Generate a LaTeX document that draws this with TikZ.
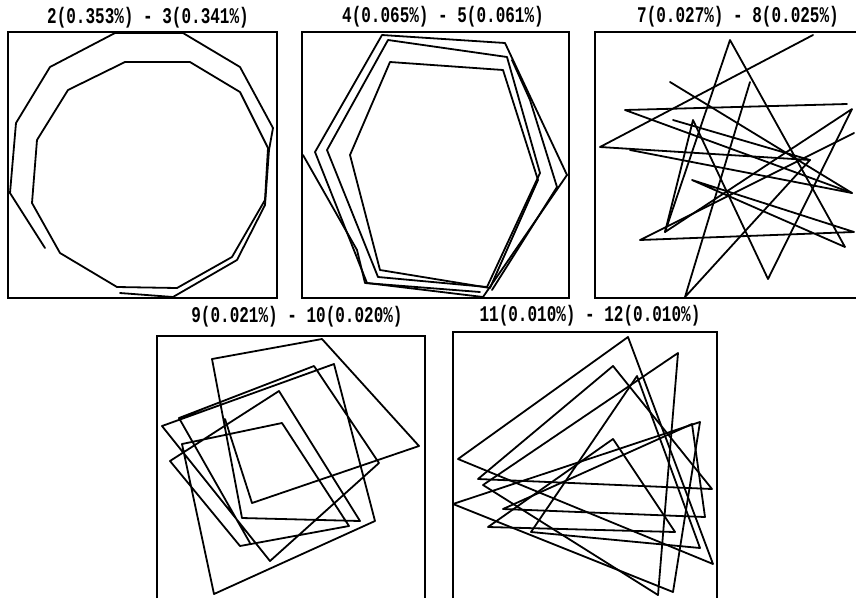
\documentclass[tikz,border=0pt]{standalone}
\usepackage{fontspec}
\setmonofont{Liberation Mono}
\usepackage{tikz}
\tikzset{
  panelframe/.style={line width=1.4pt},
  trace/.style={line width=1.8pt, line join=round, line cap=round},
  paneltitle/.style={inner sep=0pt,
    font=\ttfamily\bfseries\fontsize{16}{17}\selectfont},
}
\newcommand{\tallText}[1]{\scalebox{1}[1.4]{#1}}

\begin{document}
\begin{tikzpicture}[x=1pt, y=-1pt]
  \useasboundingbox (0,0) rectangle (856,598);

  % Titles
  \node[paneltitle] (t1) at (148,18) {\tallText{2(0.353\%) - 3(0.341\%)}};
  \node[paneltitle] (t2) at (443,17) {\tallText{4(0.065\%) - 5(0.061\%)}};
  \node[paneltitle] (t3) at (738,17) {\tallText{7(0.027\%) - 8(0.025\%)}};
  \node[paneltitle] (t4) at (297,317) {\tallText{9(0.021\%) - 10(0.020\%)}};
  \node[paneltitle] (t5) at (590,316) {\tallText{11(0.010\%) - 12(0.010\%)}};

  % Panel 1
  \draw[panelframe] (8,32) rectangle (277,298);
  \draw[trace] (45,248) -- (10,193) -- (16,123) -- (50,67) -- (115,33)
    -- (183,33) -- (240,67) -- (273,128) -- (269,150) -- (265,205)
    -- (237,260) -- (173,297) -- (120,293);
  \draw[trace] (125,62) -- (190,62) -- (240,92) -- (268,148) -- (265,200)
    -- (232,257) -- (177,288) -- (117,287) -- (60,253) -- (32,203)
    -- (37,140) -- (68,90) -- cycle;

  % Panel 2
  \draw[panelframe] (302,32) rectangle (569,298);
  \draw[trace] (382,35) -- (505,43) -- (567,175) -- (483,297) -- (367,283)
    -- (315,152) -- cycle;
  \draw[trace] (388,40) -- (507,57) -- (540,173) -- (487,287) -- (378,277)
    -- (327,150) -- cycle;
  \draw[trace] (390,62) -- (503,70) -- (538,180) -- (490,288) -- (380,270)
    -- (350,155) -- cycle;
  \draw[trace] (303,155) -- (357,250) -- (365,283) -- (480,292);
  \draw[trace] (512,60) -- (530,100) -- (557,187) -- (492,290);

  % Panel 3
  \draw[panelframe] (856,32) -- (595,32) -- (595,298) -- (856,298);
  \coordinate (sA) at (730,40);  \coordinate (sB) at (813,35);
  \coordinate (sC) at (600,147); \coordinate (sD) at (625,110);
  \coordinate (sE) at (847,104); \coordinate (sF) at (670,82);
  \coordinate (sG) at (673,120); \coordinate (sH) at (693,120);
  \coordinate (sI) at (852,193); \coordinate (sJ) at (810,160);
  \coordinate (sK) at (665,232); \coordinate (sL) at (852,109);
  \coordinate (sN) at (640,240); \coordinate (sO) at (854,232);
  \coordinate (sP) at (845,247); \coordinate (sQ) at (768,279);
  \coordinate (sR) at (685,297); \coordinate (sS) at (692,180);
  \coordinate (sT) at (630,150); \coordinate (sU) at (854,133);
  \coordinate (sV) at (750,82);
  \draw[trace] (sB) -- (sC) -- (sJ);
  \draw[trace] (sE) -- (sD) -- (sI);
  \draw[trace] (sF) -- (sI) -- (sT);
  \draw[trace] (sG) -- (sJ) -- (sR) -- (sV);
  \draw[trace] (sK) -- (sA) -- (sP) -- (sS) -- (sO) -- (sN) -- (sU);
  \draw[trace] (sQ) -- (sH) -- (sK) -- (sL) -- (sQ);

  % Panel 4
  \draw[panelframe] (157,598) -- (157,336) -- (425,336) -- (425,598);
  \draw[trace] (250,543) -- (179,418) -- (314,366) -- (379,463) -- (270,561)
    -- (162,426) -- (334,364) -- (375,521) -- (214,594) -- (182,444)
    -- (282,423) -- (349,526) -- (240,546) -- (170,461) -- (279,391)
    -- (360,521) -- (242,518) -- (212,359) -- (322,339) -- (419,446)
    -- (252,503) -- (225,419);

  % Panel 5
  \draw[panelframe] (453,598) -- (453,332) -- (717,332) -- (717,598);
  \draw[trace] (628,337) -- (458,459) -- (713,564) -- cycle;
  \draw[trace] (678,353) -- (483,485) -- (658,595) -- cycle;
  \draw[trace] (613,366) -- (478,479) -- (712,489) -- cycle;
  \draw[trace] (700,422) -- (453,504) -- (673,592) -- cycle;
  \draw[trace] (692,424) -- (503,509) -- (705,517) -- cycle;
  \draw[trace] (613,439) -- (488,527) -- (675,532) -- cycle;
  \draw[trace] (637,376) -- (531,532) -- (700,548) -- cycle;
\end{tikzpicture}
\end{document}
